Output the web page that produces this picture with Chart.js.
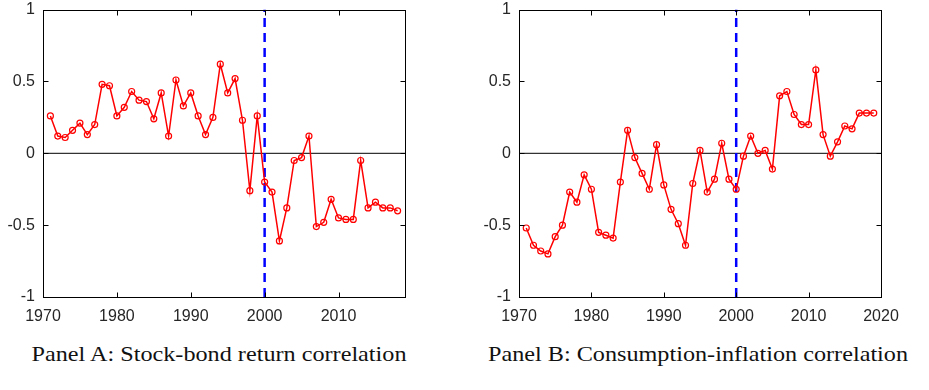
<!DOCTYPE html>
<html>
<head>
<meta charset="utf-8">
<script src="https://cdn.jsdelivr.net/npm/chart.js@4"></script>
<style>
  body { margin: 0; background: #fff; width: 929px; height: 390px; position: relative; overflow: hidden; }
  .panel { position: absolute; top: 0; height: 330px; }
  #boxA { left: 0; width: 460px; }
  #boxB { left: 470px; width: 459px; }
  .caption {
    position: absolute; top: 341px; font-family: "Liberation Serif", "Times New Roman", serif;
    font-size: 22px; color: #111; white-space: nowrap; transform: translateX(-50%) scaleX(1.1);
  }
  #capA { left: 219px; }
  #capB { left: 698px; }
</style>
</head>
<body>
<div class="panel" id="boxA"><canvas id="chartA"></canvas></div>
<div class="panel" id="boxB"><canvas id="chartB"></canvas></div>
<div class="caption" id="capA">Panel A: Stock-bond return correlation</div>
<div class="caption" id="capB">Panel B: Consumption-inflation correlation</div>
<script>
// Panel A: stock-bond return correlation, 1971-2018
const yearsA = [1971, 1972, 1973, 1974, 1975, 1976, 1977, 1978, 1979, 1980,
  1981, 1982, 1983, 1984, 1985, 1986, 1987, 1988, 1989, 1990,
  1991, 1992, 1993, 1994, 1995, 1996, 1997, 1998, 1999, 2000,
  2001, 2002, 2003, 2004, 2005, 2006, 2007, 2008, 2009, 2010,
  2011, 2012, 2013, 2014, 2015, 2016, 2017, 2018];
const stockBond = [0.26, 0.12, 0.11, 0.16, 0.21, 0.13, 0.20, 0.48, 0.47, 0.26,
  0.32, 0.43, 0.37, 0.36, 0.24, 0.42, 0.12, 0.51, 0.33, 0.42,
  0.26, 0.13, 0.25, 0.62, 0.42, 0.52, 0.23, -0.26, 0.26, -0.20,
  -0.27, -0.61, -0.38, -0.05, -0.03, 0.12, -0.51, -0.48, -0.32, -0.45,
  -0.46, -0.46, -0.05, -0.38, -0.34, -0.38, -0.38, -0.40];

// Panel B: consumption-inflation correlation, 1971-2019
const yearsB = [1971, 1972, 1973, 1974, 1975, 1976, 1977, 1978, 1979, 1980,
  1981, 1982, 1983, 1984, 1985, 1986, 1987, 1988, 1989, 1990,
  1991, 1992, 1993, 1994, 1995, 1996, 1997, 1998, 1999, 2000,
  2001, 2002, 2003, 2004, 2005, 2006, 2007, 2008, 2009, 2010,
  2011, 2012, 2013, 2014, 2015, 2016, 2017, 2018, 2019];
const consInfl = [-0.52, -0.64, -0.68, -0.70, -0.58, -0.50, -0.27, -0.34, -0.15, -0.25,
  -0.55, -0.57, -0.59, -0.20, 0.16, -0.03, -0.14, -0.25, 0.06, -0.22,
  -0.39, -0.49, -0.64, -0.21, 0.02, -0.27, -0.18, 0.07, -0.18, -0.25,
  -0.02, 0.12, 0.00, 0.02, -0.11, 0.40, 0.43, 0.27, 0.20, 0.20,
  0.58, 0.13, -0.02, 0.08, 0.19, 0.17, 0.28, 0.28, 0.28];

const yTicks = [-1, -0.5, 0, 0.5, 1];
const xTicksA = [1970, 1980, 1990, 2000, 2010];
const xTicksB = [1970, 1980, 1990, 2000, 2010, 2020];
const xMin = 1970;
const breakYear = 2000;

const tickFont = { family: '"Liberation Sans", Arial, sans-serif', size: 16 };
const textColor = '#262626';

// box round the plot area with inward ticks, stroked in black
const framePlugin = {
  id: 'frame',
  afterDraw(chart) {
    const ctx = chart.ctx, a = chart.chartArea;
    const xs = chart.scales.x, ys = chart.scales.y;
    const L = Math.round(a.left) + 0.5, R = Math.round(a.right) + 0.5;
    const T = Math.round(a.top) + 0.5, B = Math.round(a.bottom) + 0.5;
    ctx.save();
    ctx.setLineDash([]);
    ctx.lineWidth = 1;
    ctx.strokeStyle = '#000';
    ctx.strokeRect(L, T, R - L, B - T);
    ctx.beginPath();
    xs.ticks.forEach(t => {
      const px = Math.round(xs.getPixelForValue(t.value)) + 0.5;
      ctx.moveTo(px, B); ctx.lineTo(px, B - 5);
      ctx.moveTo(px, T); ctx.lineTo(px, T + 5);
    });
    ys.ticks.forEach(t => {
      const py = Math.round(ys.getPixelForValue(t.value)) + 0.5;
      ctx.moveTo(L, py); ctx.lineTo(L + 5, py);
      ctx.moveTo(R, py); ctx.lineTo(R - 5, py);
    });
    ctx.stroke();
    ctx.restore();
  }
};

function makeChart(id, years, values, xMax, xTicks, yWidth, rightPad) {
  const series = years.map((yr, i) => ({ x: yr, y: values[i] }));
  return new Chart(document.getElementById(id), {
    type: 'line',
    data: {
      datasets: [
        {
          data: series,
          borderColor: '#ff0000',
          borderWidth: 1.5,
          pointRadius: 3,
          pointBorderWidth: 1.2,
          pointBorderColor: '#ff0000',
          pointBackgroundColor: 'rgba(255,255,255,0)',
          tension: 0
        },
        {
          data: [{ x: breakYear, y: -1 }, { x: breakYear, y: 1 }],
          borderColor: '#0000ff',
          borderWidth: 2.5,
          borderDash: [9, 6],
          pointRadius: 0
        },
        {
          data: [{ x: xMin, y: 0 }, { x: xMax, y: 0 }],
          borderColor: '#000000',
          borderWidth: 1,
          pointRadius: 0
        }
      ]
    },
    options: {
      responsive: true,
      maintainAspectRatio: false,
      animation: false,
      layout: { padding: { top: 0, right: rightPad, left: 0, bottom: 0 } },
      plugins: { legend: { display: false }, tooltip: { enabled: false } },
      scales: {
        x: {
          type: 'linear',
          min: xMin,
          max: xMax,
          grid: { display: false },
          border: { display: false },
          ticks: { font: tickFont, color: textColor, padding: 2, maxRotation: 0,
            callback: v => String(v) },
          afterBuildTicks: s => { s.ticks = xTicks.map(v => ({ value: v })); },
          afterFit: s => { s.height = 33; }
        },
        y: {
          min: -1,
          max: 1,
          grid: { display: false },
          border: { display: false },
          afterBuildTicks: s => { s.ticks = yTicks.map(v => ({ value: v })); },
          ticks: { font: tickFont, color: textColor, padding: 0, callback: v => String(v) },
          afterFit: s => { s.width = yWidth; }
        }
      }
    },
    plugins: [framePlugin]
  });
}

makeChart('chartA', yearsA, stockBond, 2019, xTicksA, 43, 55);
makeChart('chartB', yearsB, consInfl, 2020, xTicksB, 49, 48);
</script>
</body>
</html>
